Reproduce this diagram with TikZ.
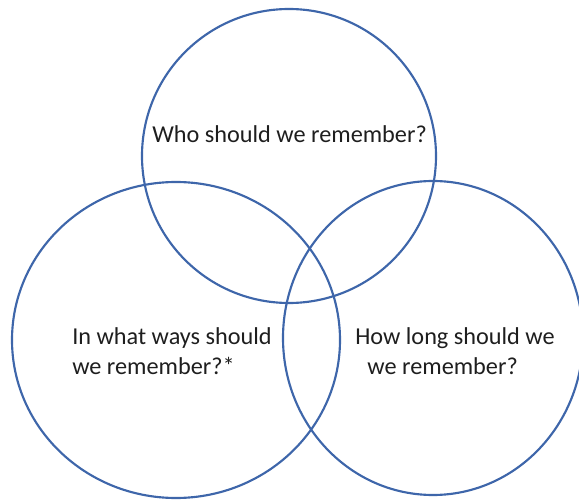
\documentclass[tikz,border=0pt]{standalone}
\usepackage{fontspec}
\setmainfont{Carlito}
\usetikzlibrary{positioning}
\definecolor{vennblue}{RGB}{62,102,170}
\definecolor{qtext}{RGB}{30,30,30}
\begin{document}
\begin{tikzpicture}[x=0.75pt, y=-0.75pt,
    ring/.style={draw=vennblue, line width=1.6pt},
    question/.style={font=\fontsize{18.2}{22.5}\selectfont, text=qtext, align=left, inner sep=0pt, anchor=base west}]

    \useasboundingbox (0,0) rectangle (579,502);

    % --- Top Circle ---
    \draw[ring] (289,156) ellipse [x radius=147, y radius=147];

    % --- Left Circle ---
    \draw[ring] (176,340) ellipse [x radius=164, y radius=158];

    % --- Right Circle ---
    \draw[ring] (433,338) ellipse [x radius=150, y radius=157];

    % --- Questions ---
    \node[question] (who) at (152,143) {Who should we remember?};
    \node[question] (ways) at (72,375) {In what ways should\\we remember?*};
    \node[question] (howlong) at (355,375) {How long should we\\\hspace*{0.5em}we remember?};

\end{tikzpicture}
\end{document}
